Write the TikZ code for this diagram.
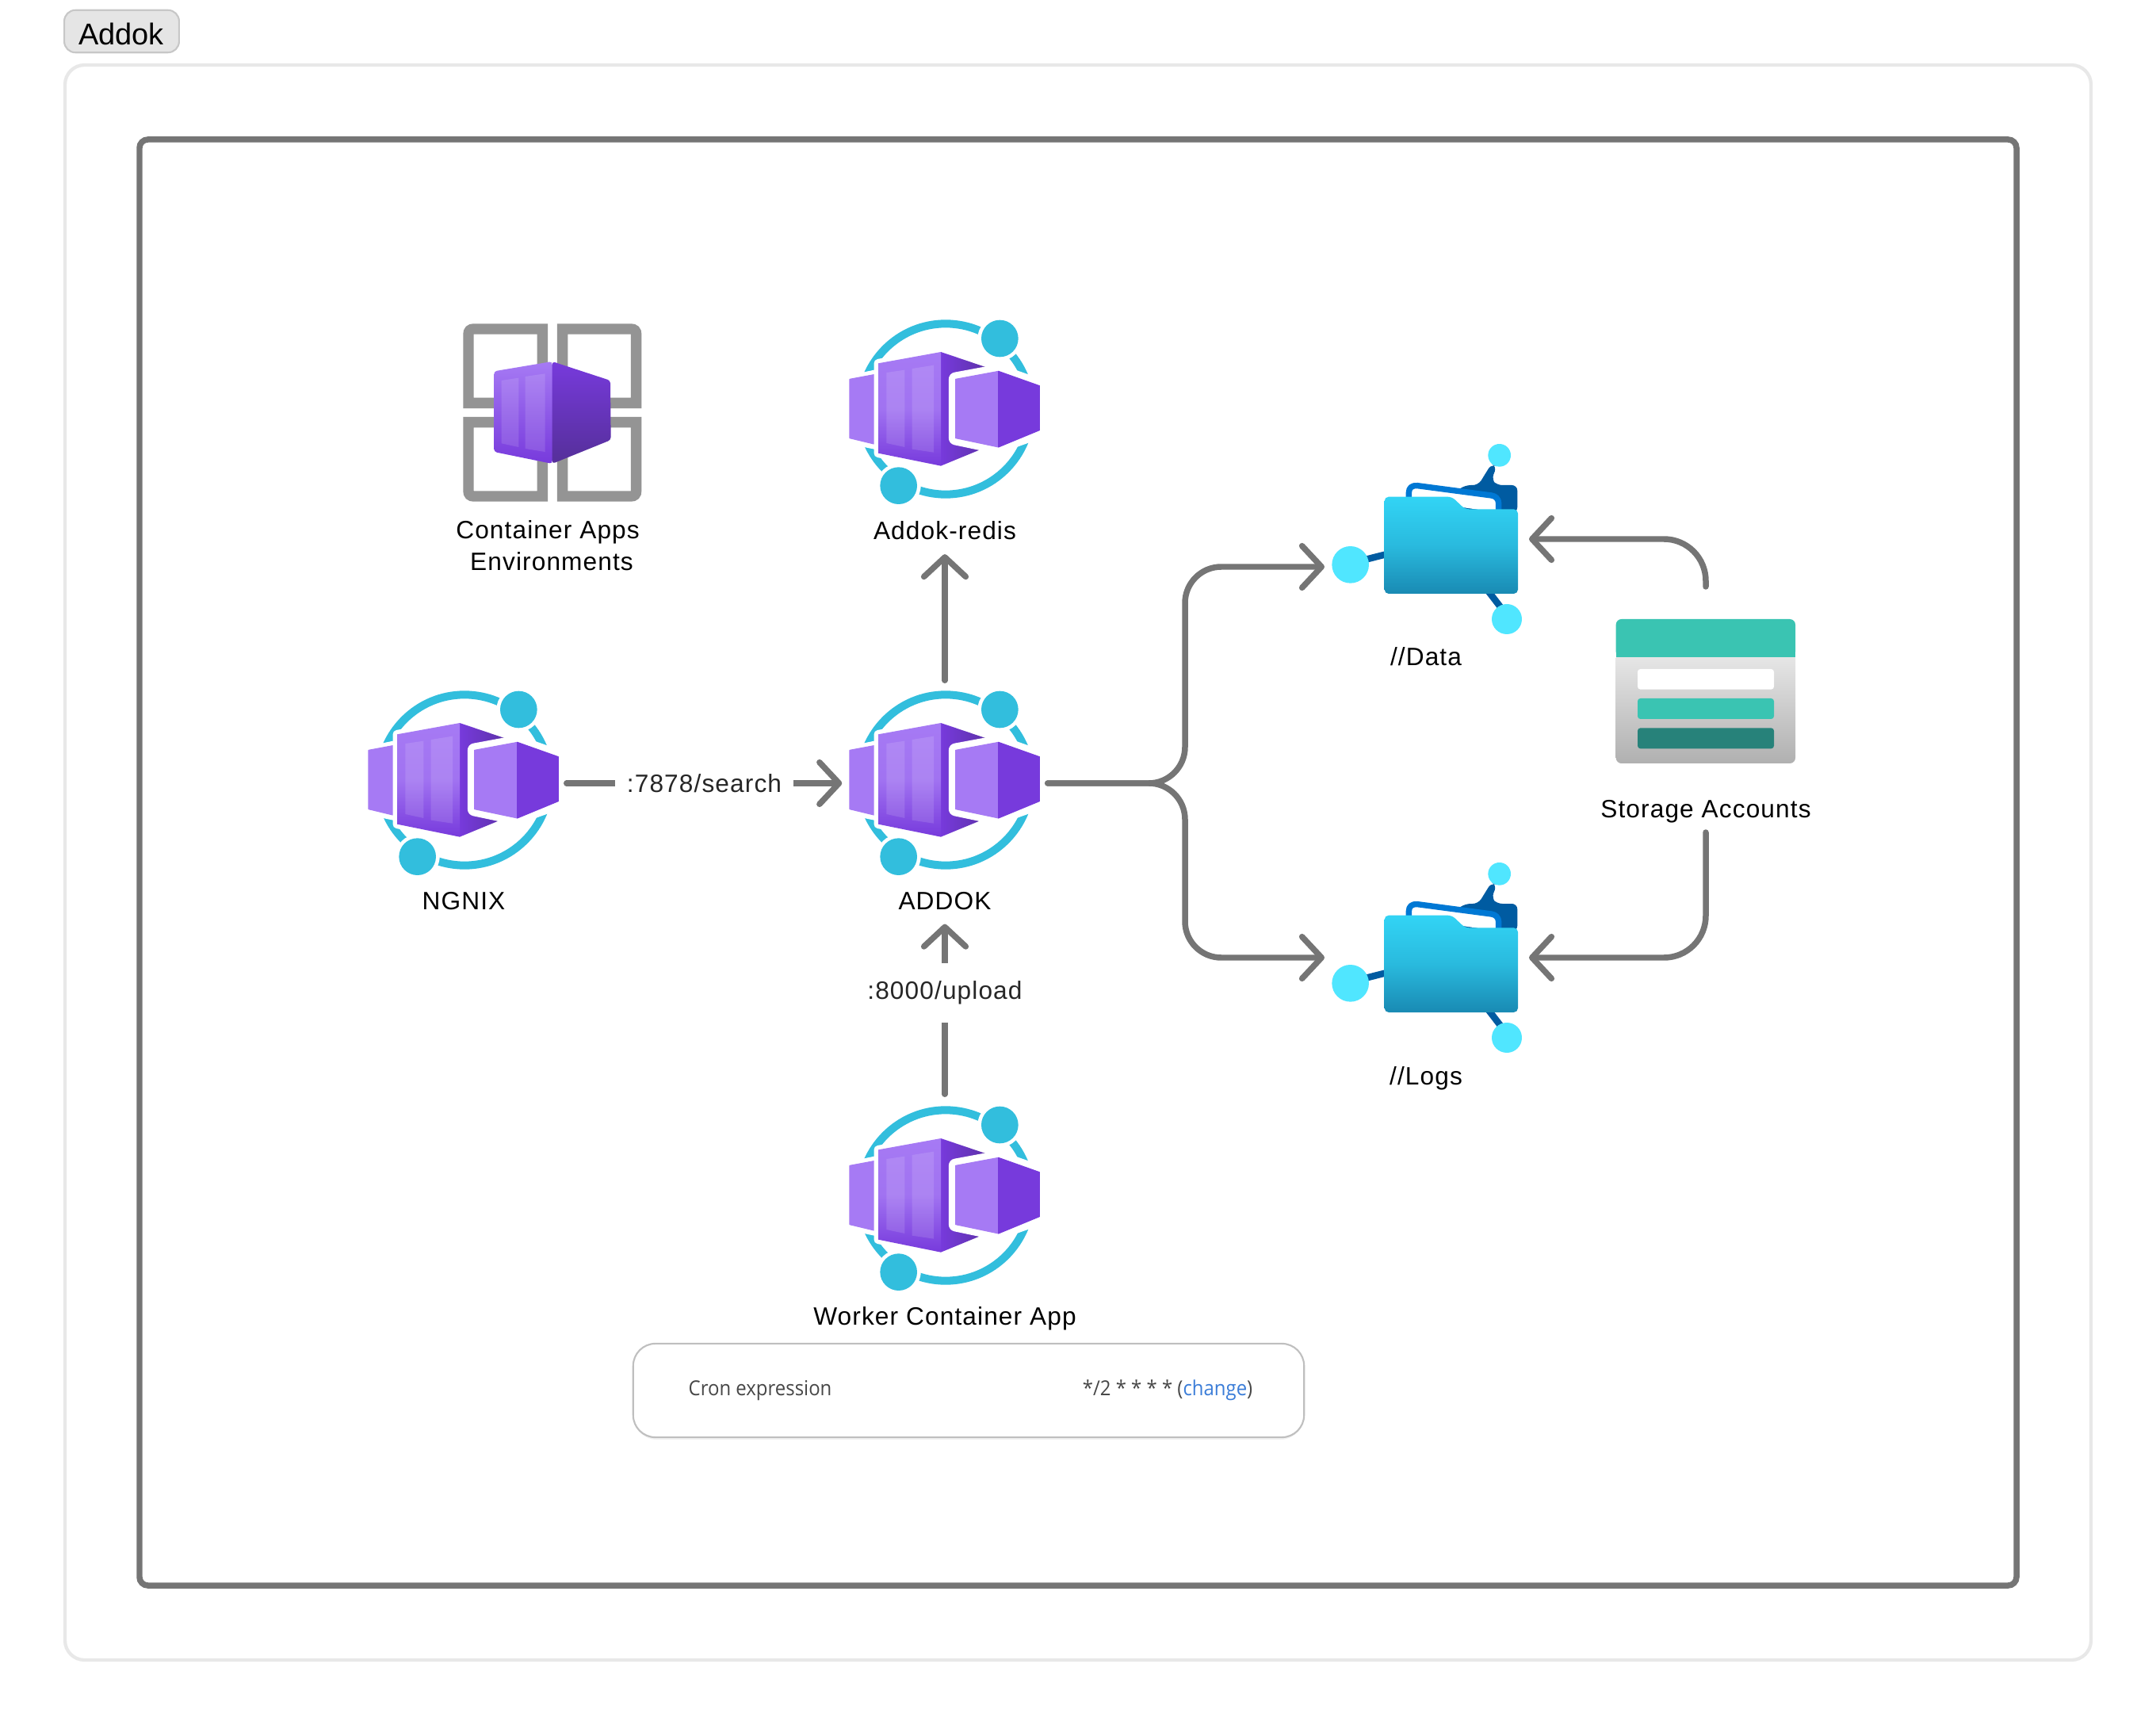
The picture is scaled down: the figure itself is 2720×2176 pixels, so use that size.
\documentclass[tikz,border=0pt]{standalone}
\usepackage{fontspec}
\setmainfont[LetterSpace=3.5]{Liberation Sans}
\newfontfamily\btnfont{Liberation Sans}
\newfontfamily\cronfont[FakeStretch=0.92]{Open Sans}
\usetikzlibrary{arrows.meta,calc}
\definecolor{ringc}{HTML}{32BEDD}
\definecolor{plight}{HTML}{A67AF4}
\definecolor{pmid}{HTML}{773ADC}
\definecolor{pdark}{HTML}{552F99}
\definecolor{grayicon}{HTML}{949494}
\definecolor{dotc}{HTML}{50E6FF}
\definecolor{linkc}{HTML}{005BA1}
\definecolor{paperc}{HTML}{0078D4}
\definecolor{ftop}{HTML}{32D4F5}
\definecolor{fbot}{HTML}{198AB3}
\definecolor{tealc}{HTML}{3AC4B2}
\definecolor{tealdk}{HTML}{27827A}
\definecolor{connc}{HTML}{757575}
\definecolor{linkblue}{HTML}{3B7DD8}
\tikzset{
  x=0.01cm,y=-0.01cm,
  conn/.style={draw=connc,line width=2.13pt,line cap=round,line join=round,
    -{Straight Barb[length=7pt,width=15pt,round]}},
  lab/.style={font=\fontsize{9}{11.1}\selectfont,text=black,anchor=base,inner xsep=0pt,inner ysep=3.1pt,text height=6.5pt,text depth=2pt,align=center},
  edgelab/.style={font=\fontsize{9}{11.1}\selectfont,text=black!85,fill=white,inner xsep=4.3pt,inner ysep=6.5pt},
  iconbox/.style={inner sep=0pt,minimum width=73.4pt,minimum height=73.4pt},
  pics/capp/.style={code={
    \begin{scope}[scale=1/3,shift={(-490,-408)}]
      \draw[ringc,line width=2.85pt] (490,408) circle (323);
      \fill[white] (100,285)--(220,260)--(220,560)--(100,535)--cycle;
      \fill[white] (690,243)--(880,310)--(880,510)--(690,575)--cycle;
      \fill[plight,draw=plight,line width=.3pt,line join=round] (127,295)--(218,278)--(218,540)--(127,518)--cycle;
      \fill[white] (695,141) circle (84);
      \fill[white] (312,698) circle (84);
      \fill[ringc] (695,141) circle (70);
      \fill[ringc] (312,698) circle (70);
      \draw[white,line width=3.1pt,line join=round] (235,235)--(472,192)--(472,623)--(235,575)--cycle;
      \shade[left color=pmid,right color=pdark] (472,192)--(700,269)--(700,529)--(472,623)--cycle;
      \shade[top color=plight,bottom color=pmid,middle color=plight!88!pmid] (235,235)--(472,192)--(472,623)--(235,575)--cycle;
      \fill[white,fill opacity=.12] (266,270)--(335,260)--(335,552)--(266,537)--cycle;
      \fill[white,fill opacity=.12] (363,255)--(445,242)--(445,572)--(363,560)--cycle;
      \draw[white,line width=5pt,line join=round] (528,295)--(690,265)--(845,320)--(845,488)--(690,552)--(528,518)--cycle;
      \fill[plight,draw=plight,line width=.3pt,line join=round] (528,295)--(690,265)--(690,552)--(528,518)--cycle;
      \fill[pmid,draw=pmid,line width=.3pt,line join=round] (690,265)--(845,320)--(845,488)--(690,552)--cycle;
    \end{scope}
  }},
  pics/foldericon/.style={code={
    \begin{scope}[scale=1/3]
      \draw[linkc,line width=2.4pt] (265,478)--(190,497);
      \draw[linkc,line width=2.4pt] (655,620)--(705,685);
      \fill[linkc,rounded corners=2pt] (530,240)--(565,216)--(615,216)--(665,135)--(685,145)--(665,195)--(685,216)--(763,216)--(763,320)--(530,320)--cycle;
      \fill[white] (352,270)--(352,240)--(385,218)--(670,255)--(692,285)--(692,320)--cycle;
      \draw[paperc,line width=2.1pt,line join=round] (352,265)--(352,245) .. controls (352,225) and (365,216) .. (385,218) -- (665,255) .. controls (680,257) and (692,268) .. (692,285) -- (692,315);
      \shade[top color=ftop,bottom color=fbot,middle color=ftop!65!fbot,rounded corners=1.5pt] (260,260)--(515,260)--(565,307)--(765,307)--(765,627)--(260,627)--cycle;
      \fill[dotc] (131,517) circle (70);
      \fill[dotc] (695,103) circle (43);
      \fill[dotc] (723,723) circle (57);
    \end{scope}
  }}
}
\begin{document}
\begin{tikzpicture}
\useasboundingbox (0,0) rectangle (2720,2176);
\fill[white] (0,0) rectangle (2720,2176);
% tab
\node[draw=black!22,fill=black!10,line width=.6pt,rounded corners=4pt,minimum width=41.2pt,minimum height=15.2pt,inner sep=0pt] (tab) at (153.5,39.5) {};
\node[font=\btnfont\fontsize{10.8}{12}\selectfont,anchor=base,inner sep=0pt] (tabt) at (153,57) {Addok};
% frames
\draw[draw=black!9,line width=1.2pt,rounded corners=7pt] (82,82) rectangle (2638,2094);
\draw[draw=connc,line width=2.13pt,rounded corners=3pt] (176,176) rectangle (2544,2000);
% environment
\begin{scope}[shift={(440,380)},scale=1/3]
  \tikzset{env/.style={draw=grayicon,line width=3.8pt}}
  \draw[env] (733,385)--(453,385)--(453,125) .. controls (453,112) and (460,105) .. (473,105)--(733,105)--cycle;
  \draw[env] (809,385)--(1088,385)--(1088,125) .. controls (1088,112) and (1081,105) .. (1068,105)--(809,105)--cycle;
  \draw[env] (733,458)--(453,458)--(453,718) .. controls (453,731) and (460,738) .. (473,738)--(733,738)--cycle;
  \draw[env] (809,458)--(1088,458)--(1088,718) .. controls (1088,731) and (1081,738) .. (1068,738)--(809,738)--cycle;
  \shade[top color=pmid,bottom color=pdark,rounded corners=1pt] (770,228)--(990,300)--(992,525)--(770,615)--cycle;
  \shade[top color=plight,bottom color=pmid,rounded corners=1pt] (550,265)--(770,228)--(770,615)--(550,570)--cycle;
  \fill[white,fill opacity=.12] (578,300)--(643,290)--(643,552)--(578,538)--cycle;
  \fill[white,fill opacity=.12] (668,285)--(743,274)--(743,570)--(668,558)--cycle;
\end{scope}
\node[lab] (envl) at (696,719) {Container Apps\hspace*{2.8pt}\\Environments};
% container apps
\node[iconbox] (redis) at (1192,516) {};
\pic at (1193,516) {capp};
\node[lab] (redisl) at (1192,680.5) {Addok-redis};
\node[iconbox] (ngnix) at (585,988) {};
\pic at (586,984) {capp};
\node[lab] (ngnixl) at (585,1147) {NGNIX};
\node[iconbox] (addok) at (1192,988) {};
\pic at (1193,984) {capp};
\node[lab] (addokl) at (1192,1147) {ADDOK};
\node[iconbox] (worker) at (1192,1510) {};
\pic at (1193,1508) {capp};
\node[lab] (workerl) at (1192,1671) {Worker Container App};
% cron
\fill[black!5,rounded corners=8pt] (800,1699) rectangle (1644,1816);
\node[draw=black!25,fill=white,line width=.6pt,rounded corners=8pt,minimum width=240.7pt,minimum height=33.6pt,inner sep=0pt] (cron) at (1222,1754) {};
\node[font=\cronfont\fontsize{7.4}{9}\selectfont,text=black!72,anchor=base west,inner sep=0pt] (cronk) at (868,1760) {Cron expression};
\node[font=\cronfont\fontsize{7.4}{9}\selectfont,text=black!72,anchor=base east,inner sep=0pt] (cronv) at (1581,1760) {*/2 * * * * ({\color{linkblue}change})};
% folders
\node[inner sep=0pt,minimum width=40pt,minimum height=40pt] (data) at (1800,690) {};
\pic at (1660,540) {foldericon};
\node[lab] (datal) at (1799,840) {//Data};
\node[inner sep=0pt,minimum width=40pt,minimum height=40pt] (logs) at (1800,1218) {};
\pic at (1660,1068) {foldericon};
\node[lab] (logsl) at (1799,1368) {//Logs};
% storage
\begin{scope}[shift={(2000,760)},scale=1/3]
  \shade[top color=black!9,bottom color=black!31,rounded corners=2pt] (116,190)--(795,190)--(795,609)--(116,609)--cycle;
  \fill[tealc,rounded corners=2pt] (116,207)--(116,63)--(795,63)--(795,207)--cycle;
  \fill[tealc] (116,150) rectangle (795,207);
  \fill[white,rounded corners=1pt] (198,252) rectangle (714,329);
  \fill[tealc,rounded corners=1pt] (198,363) rectangle (714,441);
  \fill[tealdk,rounded corners=1pt] (198,475) rectangle (714,553);
\end{scope}
\node[lab] (storagel) at (2152,1031) {Storage Accounts};
% connector ends
\coordinate (datain) at (1671,715);
\coordinate (databack) at (1929,680);
\coordinate (logsin) at (1671,1208);
\coordinate (logsback) at (1929,1208);
\coordinate (bus) at (1495,988);
\coordinate (stup) at (2152,740);
\coordinate (stdown) at (2152,1050);
% connectors
\draw[conn] (ngnix.east) -- node[edgelab] (l7878) {:7878/search} (addok.west);
\draw[conn] (addok.north) -- (redisl.south);
\draw[conn] (worker.north) -- node[edgelab,pos=.595] (l8000) {:8000/upload} (addokl.south);
\draw[conn,rounded corners=13pt] (addok.east) -- (bus) |- (datain);
\draw[conn,rounded corners=13pt] (addok.east) -- (bus) |- (logsin);
\draw[conn,rounded corners=15pt] (stup) |- (databack);
\draw[conn,rounded corners=15pt] (stdown) |- (logsback);
\end{tikzpicture}
\end{document}
